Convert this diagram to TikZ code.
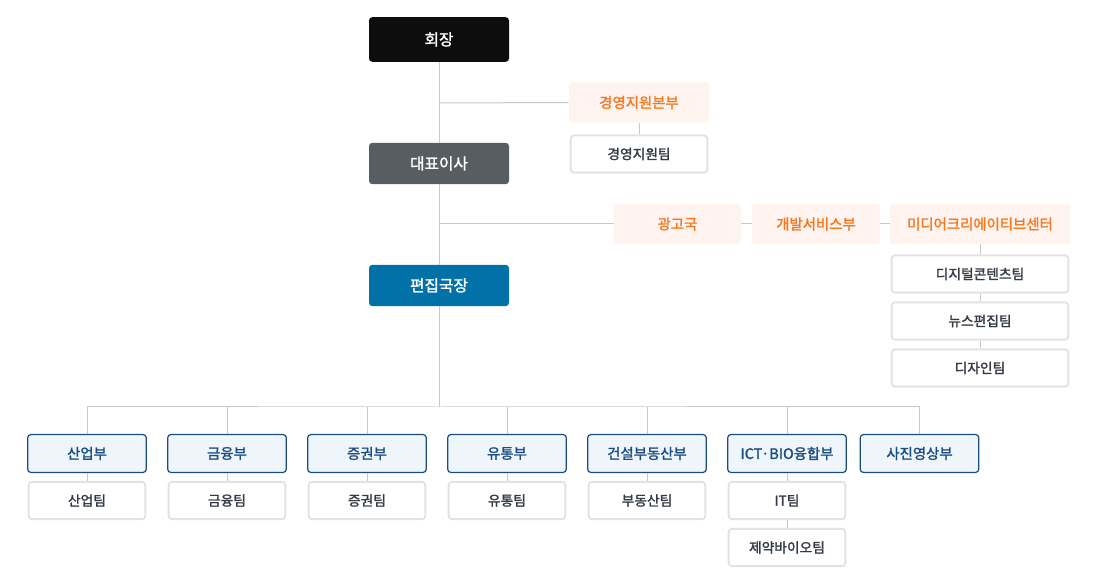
\documentclass[tikz,border=0pt]{standalone}
\usepackage{fontspec}
\setmainfont{Noto Sans CJK KR}[BoldFont={Noto Sans CJK KR},BoldFeatures={FakeBold=1.6}]
\definecolor{lineg}{HTML}{C8C8C8}
\definecolor{bordg}{HTML}{E2E2E2}
\definecolor{orangeT}{HTML}{F5781E}
\definecolor{orangeF}{HTML}{FEF3EE}
\definecolor{blueB}{HTML}{1B4C80}
\definecolor{blueF}{HTML}{EEF6FC}
\definecolor{teamT}{HTML}{333A44}
\definecolor{darkbox}{HTML}{0D0D0D}
\definecolor{greybox}{HTML}{575D61}
\definecolor{bluebox}{HTML}{0171A8}
\tikzset{
  px/.style={x=0.75pt,y=-0.75pt},
  base/.style={rounded corners=2.5pt,inner sep=0pt,font=\fontsize{10.8}{12}\selectfont\bfseries,anchor=center},
  exec/.style={base,font=\fontsize{11.8}{13}\selectfont\bfseries,minimum width=105pt,minimum height=31pt,text=white},
  orbox/.style={base,fill=orangeF,text=orangeT,minimum height=30pt},
  team/.style={base,font=\fontsize{10.3}{12}\selectfont\bfseries,draw=bordg,line width=1.4pt,fill=white,text=teamT,minimum height=28pt},
  dept/.style={base,draw=blueB,line width=0.9pt,fill=blueF,text=blueB,minimum width=89pt,minimum height=28.5pt},
  conn/.style={draw=lineg,line width=0.75pt}
}
\begin{document}
\begin{tikzpicture}[px]
\useasboundingbox (0,0) rectangle (1097,584);
% executive column
\node[exec,fill=darkbox,minimum height=33.5pt] (ch) at (439,39.5) {회장};
\node[exec,fill=greybox] (ceo) at (439,163.5) {대표이사};
\node[exec,fill=bluebox] (ed) at (439,285.5) {편집국장};
% management support
\node[orbox,minimum width=105pt] (mgmt) at (639,102.5) {경영지원본부};
\node[team,minimum width=102.5pt] (mgmtT) at (639,154) {경영지원팀};
% second row
\node[orbox,minimum width=95.25pt] (ad) at (677.5,224) {광고국};
\node[orbox,minimum width=96pt] (dev) at (816,224) {개발서비스부};
\node[orbox,minimum width=135pt] (mc) at (980,224) {미디어크리에이티브센터};
\node[team,minimum width=132.5pt] (dc) at (980,274) {디지털콘텐츠팀};
\node[team,minimum width=132.5pt] (news) at (980,321) {뉴스편집팀};
\node[team,minimum width=132.5pt] (des) at (980,368) {디자인팀};
% departments
\node[dept] (d1) at (87,453.5) {산업부};
\node[dept] (d2) at (227,453.5) {금융부};
\node[dept] (d3) at (367,453.5) {증권부};
\node[dept] (d4) at (507,453.5) {유통부};
\node[dept] (d5) at (647,453.5) {건설부동산부};
\node[dept] (d6) at (787,453.5) {ICT·BIO융합부};
\node[dept] (d7) at (919.5,453.5) {사진영상부};
\node[team,minimum width=87.5pt] (t1) at (87,500.5) {산업팀};
\node[team,minimum width=87.5pt] (t2) at (227,500.5) {금융팀};
\node[team,minimum width=87.5pt] (t3) at (367,500.5) {증권팀};
\node[team,minimum width=87.5pt] (t4) at (507,500.5) {유통팀};
\node[team,minimum width=87.5pt] (t5) at (647,500.5) {부동산팀};
\node[team,minimum width=87.5pt] (t6) at (787,500.5) {IT팀};
\node[team,minimum width=87.5pt] (t7) at (787,547.5) {제약바이오팀};
\coordinate (bus) at (439,407);
\coordinate (j1) at (439,103);
\coordinate (j2) at (439,224);
% connectors
\path[conn] (ch.south) -- (ceo.north);
\path[conn] (ceo.south) -- (ed.north);
\path[conn] (ed.south) -- (bus);
\path[conn] (j1) -- (mgmt.west);
\path[conn] (mgmt.south) -- (mgmtT.north);
\path[conn] (j2) -- (ad.west);
\path[conn] (ad.east) -- (dev.west);
\path[conn] (dev.east) -- (mc.west);
\path[conn] (mc.south) -- (dc.north);
\path[conn] (dc.south) -- (news.north);
\path[conn] (news.south) -- (des.north);
\path[conn] (d1.north) |- (bus) -| (d7.north);
\foreach \d in {d2,d3,d4,d5,d6} { \path[conn] (\d.north) -- (\d.north |- bus); }
\foreach \a/\b in {d1/t1,d2/t2,d3/t3,d4/t4,d5/t5,d6/t6,t6/t7} { \path[conn] (\a.south) -- (\b.north); }
\end{tikzpicture}
\end{document}
